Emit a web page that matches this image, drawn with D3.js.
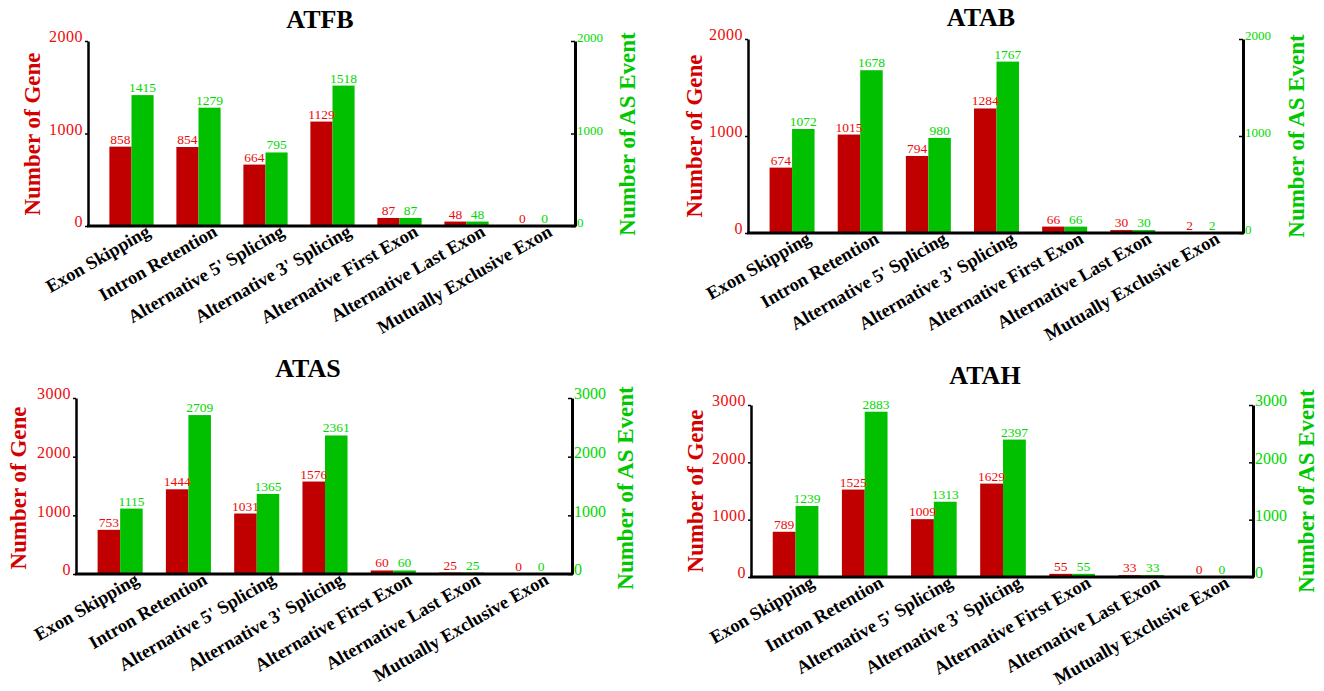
<!DOCTYPE html>
<html>
<head>
<meta charset="utf-8">
<script src="https://cdn.jsdelivr.net/npm/d3@7"></script>
<style>
  body { margin: 0; background: #fff; }
  svg { display: block; }
  text { font-family: "Liberation Serif", "Times New Roman", serif; }
</style>
</head>
<body>
<svg width="1324" height="691"></svg>
<script>
var svg = d3.select("svg");

// categories shared by the four panels
var categories = ["Exon Skipping", "Intron Retention", "Alternative 5' Splicing",
  "Alternative 3' Splicing", "Alternative First Exon", "Alternative Last Exon",
  "Mutually Exclusive Exon"];

var titles = ["ATFB", "ATAB", "ATAS", "ATAH"];

// number of genes (left axis) and number of AS events (right axis)
var atfbGene = [858, 854, 664, 1129, 87, 48, 0];
var atfbEvent = [1415, 1279, 795, 1518, 87, 48, 0];
var atabGene = [674, 1015, 794, 1284, 66, 30, 2];
var atabEvent = [1072, 1678, 980, 1767, 66, 30, 2];
var atasGene = [753, 1444, 1031, 1576, 60, 25, 0];
var atasEvent = [1115, 2709, 1365, 2361, 60, 25, 0];
var atahGene = [789, 1525, 1009, 1629, 55, 33, 0];
var atahEvent = [1239, 2883, 1313, 2397, 55, 33, 0];

var ticks2000 = [0, 1000, 2000];
var ticks3000 = [0, 1000, 2000, 3000];

var barRed = "#c00000", barGreen = "#00c000";
var txtRed = "#ee0a0a", txtGreen = "#00d800";

// panel frames (left axis x, right axis x, top y, bottom y)
var panels = [
  {title: titles[0], gene: atfbGene, event: atfbEvent, ticks: ticks2000, rfs: 13,
   left: 88, right: 575, top: 41, bottom: 226, tx: 320, ty: 28, lx: 40, rx: 619, cy: 134},
  {title: titles[1], gene: atabGene, event: atabEvent, ticks: ticks2000, rfs: 13,
   left: 748, right: 1243, top: 39, bottom: 233, tx: 981, ty: 26, lx: 702, rx: 1288, cy: 136},
  {title: titles[2], gene: atasGene, event: atasEvent, ticks: ticks3000, rfs: 16,
   left: 76, right: 572, top: 398, bottom: 574, tx: 308, ty: 377, lx: 26, rx: 617, cy: 488},
  {title: titles[3], gene: atahGene, event: atahEvent, ticks: ticks3000, rfs: 16,
   left: 751, right: 1253, top: 405, bottom: 577, tx: 985, ty: 384, lx: 703, rx: 1298, cy: 491}
];

panels.forEach(drawPanel);

function drawPanel(p) {
  var g = svg.append("g");
  var max = d3.max(p.ticks);

  var x0 = d3.scaleBand()
    .domain(categories)
    .range([p.left + 10, p.right - 8])
    .paddingInner(0.34)
    .paddingOuter(0.17);
  var x1 = d3.scaleBand()
    .domain(["gene", "event"])
    .range([0, x0.bandwidth()]);
  var yL = d3.scaleLinear().domain([0, max]).range([p.bottom, p.top]);
  var yR = d3.scaleLinear().domain([0, max]).range([p.bottom, p.top]);

  var rows = categories.map(function(c, i) {
    return {cat: c, gene: p.gene[i], event: p.event[i]};
  });

  //bars
  var grp = g.selectAll(".grp")
    .data(rows)
    .enter().append("g")
      .attr("transform", function(d) { return "translate(" + x0(d.cat) + ",0)"; });

  grp.append("rect")
    .attr("x", x1("gene"))
    .attr("width", x1.bandwidth())
    .attr("y", function(d) { return yL(d.gene); })
    .attr("height", function(d) { return yL(0) - yL(d.gene); })
    .style("fill", barRed);

  grp.append("rect")
    .attr("x", x1("event"))
    .attr("width", x1.bandwidth())
    .attr("y", function(d) { return yR(d.event); })
    .attr("height", function(d) { return yR(0) - yR(d.event); })
    .style("fill", barGreen);

  //value labels
  grp.append("text")
    .attr("x", x1("gene") + x1.bandwidth() / 2)
    .attr("y", function(d) { return yL(d.gene) - 3; })
    .attr("text-anchor", "middle")
    .style("font-size", "13.5px")
    .style("fill", txtRed)
    .text(function(d) { return d.gene; });

  grp.append("text")
    .attr("x", x1("event") + x1.bandwidth() / 2)
    .attr("y", function(d) { return yR(d.event) - 3; })
    .attr("text-anchor", "middle")
    .style("font-size", "13.5px")
    .style("fill", txtGreen)
    .text(function(d) { return d.event; });

  //left axis
  var la = g.append("g")
    .attr("transform", "translate(" + p.left + ",0)")
    .call(d3.axisLeft(yL).tickValues(p.ticks).tickFormat(d3.format("d"))
      .tickSize(3).tickSizeOuter(0).tickPadding(2));
  la.select(".domain").attr("stroke", "#000").attr("stroke-width", 2.5);
  la.selectAll(".tick line").attr("stroke", "#000").attr("stroke-width", 1.5);
  la.selectAll(".tick text")
    .attr("dy", "0.05em")
    .style("font-size", "16px")
    .style("letter-spacing", "0.5px")
    .style("fill", txtRed);

  //right axis
  var ra = g.append("g")
    .attr("transform", "translate(" + p.right + ",0)")
    .call(d3.axisRight(yR).tickValues(p.ticks).tickFormat(d3.format("d"))
      .tickSizeInner(-4).tickSizeOuter(0).tickPadding(2));
  ra.select(".domain").attr("stroke", "#000").attr("stroke-width", 3);
  ra.selectAll(".tick line").attr("stroke", "#000").attr("stroke-width", 1.5);
  ra.selectAll(".tick text")
    .attr("dy", "0.05em")
    .style("font-size", p.rfs + "px")
    .style("fill", txtGreen);

  //category axis
  var xa = g.append("g")
    .attr("transform", "translate(0," + p.bottom + ")")
    .call(d3.axisBottom(x0).tickSize(0));
  xa.select(".domain").remove();
  xa.selectAll(".tick text")
    .attr("x", 0)
    .attr("y", 0)
    .attr("dy", 0)
    .attr("text-anchor", "end")
    .attr("transform", "translate(20,9) rotate(-30)")
    .style("font-size", "18.5px")
    .style("font-weight", "bold")
    .style("fill", "#000");

  g.append("line")
    .attr("x1", p.left - 1)
    .attr("x2", p.right + 1)
    .attr("y1", yL(0))
    .attr("y2", yL(0))
    .attr("stroke", "#000")
    .attr("stroke-width", 3);

  //titles
  g.append("text")
    .attr("x", p.tx)
    .attr("y", p.ty)
    .attr("text-anchor", "middle")
    .style("font-size", "26px")
    .style("font-weight", "bold")
    .text(p.title);

  g.append("text")
    .attr("transform", "translate(" + p.lx + "," + p.cy + ") rotate(-90)")
    .attr("text-anchor", "middle")
    .style("font-size", "23px")
    .style("font-weight", "bold")
    .style("fill", "#d40000")
    .text("Number of Gene");

  g.append("text")
    .attr("transform", "translate(" + p.rx + "," + p.cy + ") rotate(-90)")
    .attr("text-anchor", "middle")
    .attr("dy", "0.68em")
    .style("font-size", "23px")
    .style("font-weight", "bold")
    .style("fill", "#00c800")
    .text("Number of AS Event");
}
</script>
</body>
</html>
